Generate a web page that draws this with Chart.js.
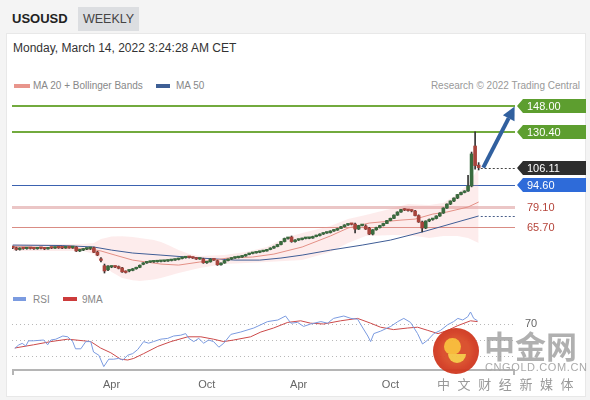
<!DOCTYPE html>
<html>
<head>
<meta charset="utf-8">
<script src="https://cdn.jsdelivr.net/npm/chart.js@4.4.0/dist/chart.umd.min.js"></script>
<style>
  body { margin:0; width:590px; height:400px; background:#f4f4f4; font-family:"Liberation Sans", Arial, sans-serif; position:relative; overflow:hidden; }
  #sym { position:absolute; left:12px; top:11px; font-weight:bold; font-size:13px; color:#222; }
  #tab { position:absolute; left:78px; top:7px; width:61px; height:24px; background:#dcdee1; color:#444; font-size:12.5px; line-height:24px; text-align:center; }
  #card { position:absolute; left:6px; top:33px; width:578px; height:362px; background:#fff; border:1px solid #e8e8e8; }
  #date { position:absolute; left:13px; top:41px; font-size:12px; color:#333; }
  .leg { position:absolute; font-size:10px; color:#888; white-space:nowrap; }
  .sw { position:absolute; height:4px; }
  canvas { position:absolute; left:0; }
  #price { top:95px; }
  #rsi { top:305px; }
  #logo { position:absolute; left:433px; top:328px; width:46px; height:46px; border-radius:50%;
          background:radial-gradient(circle at 50% 50%, #d94a26 0 40%, #d23a20 60%, #c42f1c 100%); opacity:0.95; }
  #logo:before { content:""; position:absolute; left:11px; top:10px; width:17px; height:17px; border-radius:50%; background:#f7b733; }
  #logo:after { content:""; position:absolute; left:15px; top:26px; width:18px; height:9px; border-radius:0 0 10px 10px; background:#f4c542; }
  #wmBig { position:absolute; left:484px; top:327px; font-size:31px; font-weight:bold; color:rgba(150,150,150,0.75); font-family:"Noto Sans CJK SC", sans-serif; line-height:36px; }
  #wmUrl { position:absolute; left:485px; top:361px; font-size:11px; color:#aaa; letter-spacing:0.6px; }
  #wmSub { position:absolute; left:437px; top:374px; font-size:13px; color:#999; letter-spacing:7.6px; font-family:"Noto Sans CJK SC", sans-serif; }
</style>
</head>
<body>
<div id="card"></div>
<div id="sym">USOUSD</div>
<div id="tab">WEEKLY</div>
<div id="date">Monday, March 14, 2022 3:24:28 AM CET</div>

<div class="sw" style="left:14px;top:84px;width:16px;background:#e8958c"></div>
<div class="leg" style="left:33px;top:80px">MA 20 + Bollinger Bands</div>
<div class="sw" style="left:156px;top:84px;width:14px;background:#3e5f95"></div>
<div class="leg" style="left:176px;top:80px">MA 50</div>
<div class="leg" style="right:10px;top:80px;color:#999">Research © 2022 Trading Central</div>

<canvas id="price" width="590" height="187"></canvas>

<div class="sw" style="left:13px;top:297px;width:13px;background:#7b9be0"></div>
<div class="leg" style="left:33px;top:294px">RSI</div>
<div class="sw" style="left:63px;top:297px;width:14px;background:#cc3b3b"></div>
<div class="leg" style="left:82px;top:294px">9MA</div>

<canvas id="rsi" width="590" height="95"></canvas>

<div id="logo"></div>
<div id="wmBig">中金网</div>
<div id="wmUrl">CNGOLD.COM.CN</div>
<div id="wmSub">中文财经新媒体</div>

<script>
// weekly candles, Sep 2019 .. Mar 14 2022 (index = week number)
const opens = [52.1,51.6,50.4,51.1,51.0,51.3,51.1,50.9,51.4,51.2,
  50.8,51.5,51.4,51.8,51.6,51.5,51.9,51.7,52.1,49.4,
  50.0,50.7,51.1,51.6,48.7,43.6,39.4,36.6,38.5,38.8,
  38.8,37.9,35.3,35.8,36.2,37.3,38.3,40.3,41.3,41.8,
  42.0,42.1,42.3,42.4,42.6,42.9,43.2,43.6,44.3,44.8,
  45.3,45.0,44.6,43.9,44.0,41.4,42.0,43.9,42.8,40.0,
  41.2,42.9,43.9,44.6,44.9,45.3,46.0,47.0,47.7,48.1,
  48.5,49.0,49.4,50.4,51.4,52.4,53.8,55.8,57.9,58.9,
  55.8,56.8,57.2,57.9,58.0,58.2,59.2,59.9,60.9,61.6,
  61.9,63.0,63.6,64.7,65.9,67.1,67.7,67.7,64.3,66.7,
  66.4,65.0,60.9,63.8,65.3,66.7,68.1,70.1,71.6,73.8,
  75.9,77.6,77.2,76.9,76.6,73.5,69.1,65.0,69.8,70.8,
  71.5,73.2,75.2,78.6,81.3,83.4,85.4,87.8,89.2,90.2,
  93.6,120.8,107.8];
const highs = [52.8,52.0,51.6,51.8,51.7,51.9,51.6,51.8,51.9,51.7,
  51.8,52.0,52.1,52.3,52.2,52.3,52.4,52.5,52.4,50.5,
  51.0,51.5,51.7,52.0,49.2,44.9,40.5,39.5,39.2,39.3,
  39.2,38.3,35.9,36.6,37.5,38.4,39.9,41.5,42.1,42.4,
  42.5,42.6,42.8,43.0,43.2,43.5,43.9,44.5,45.2,45.6,
  45.6,45.3,44.9,44.6,44.5,42.3,44.2,44.0,43.2,41.4,
  43.1,44.1,44.8,45.2,45.6,46.2,47.2,47.9,48.4,48.8,
  49.3,49.7,50.6,51.6,52.7,54.0,56.0,58.2,58.6,59.6,
  57.2,57.5,58.1,58.5,58.6,59.5,60.2,61.1,61.8,62.2,
  63.2,63.9,64.9,66.1,67.3,67.9,68.0,68.3,66.9,67.5,
  67.2,65.5,64.0,65.6,66.9,68.3,70.3,71.8,74.0,76.1,
  77.8,78.2,77.6,77.5,77.0,74.0,69.8,69.9,71.2,71.6,
  73.4,75.4,78.8,81.5,83.5,85.6,87.9,89.4,90.4,100.8,
  116.7,130.4,109.5];
const lows = [51.0,49.8,50.0,50.5,50.6,50.7,50.4,50.6,50.8,50.3,
  50.6,51.0,51.1,51.2,51.0,51.2,51.3,51.2,49.0,49.0,
  49.6,50.3,50.4,48.2,46.2,42.0,34.4,36.0,38.0,38.1,
  37.2,34.9,34.4,35.2,35.9,37.0,38.0,40.0,41.0,41.6,
  41.6,41.8,42.0,42.1,42.3,42.6,42.9,43.3,44.0,44.5,
  44.6,44.3,43.6,43.7,41.0,41.0,41.8,43.0,39.6,39.8,
  41.0,42.7,43.6,44.3,44.6,45.0,45.8,46.8,47.4,47.9,
  48.2,48.8,49.2,50.2,51.2,52.2,53.5,55.5,57.5,55.3,
  55.4,56.5,56.9,57.6,57.7,58.0,59.0,59.6,60.6,61.3,
  61.6,62.7,63.4,64.5,65.6,66.8,67.1,61.6,64.0,66.4,
  64.0,60.5,60.3,63.5,65.0,66.4,67.9,69.9,71.4,73.6,
  75.6,76.8,76.5,76.0,73.2,68.8,62.3,64.6,69.3,70.3,
  71.2,72.9,74.9,78.3,80.9,83.0,85.0,87.5,88.9,89.9,
  93.0,105.0,104.5];
const closes = [51.6,50.4,51.1,51.0,51.3,51.1,50.9,51.4,51.2,50.8,
  51.5,51.4,51.8,51.6,51.5,51.9,51.7,52.1,49.4,50.0,
  50.7,51.1,51.2,48.5,46.6,43.0,35.8,39.1,38.8,38.5,
  37.6,35.2,34.8,36.3,37.3,38.1,39.7,41.3,41.8,42.1,
  42.1,42.3,42.4,42.6,42.9,43.2,43.6,44.3,44.8,45.3,
  45.0,44.6,43.9,44.3,41.4,42.0,43.9,43.3,40.0,41.2,
  42.9,43.9,44.6,44.9,45.3,46.0,47.0,47.7,48.1,48.5,
  49.0,49.4,50.4,51.4,52.4,53.8,55.8,57.9,58.2,55.8,
  56.8,57.2,57.9,58.0,58.2,59.2,59.9,60.9,61.6,61.9,
  63.0,63.6,64.7,65.9,67.1,67.7,67.5,64.3,66.7,67.1,
  64.3,60.9,63.8,65.3,66.7,68.1,70.1,71.6,73.8,75.9,
  77.6,77.2,76.9,76.6,73.5,69.1,65.0,69.8,70.8,71.5,
  73.2,75.2,78.6,81.3,83.4,85.4,87.8,89.2,90.2,93.6,
  115.4,107.5,106.11];

// indicators (week index, value)
const ma20Weeks = [0,14,22,25,29,34,42,47,53,61,68,74,82,90,95,101,110,114,119,123,129,132];
const ma20 = [52.4,51.4,50.7,49.4,46.6,43.2,40.5,39.8,41.9,44.6,45.3,47.3,52.1,59.6,65.0,68.4,70.4,71.1,74.5,75.9,79.3,82.7];
const ma50Weeks = [0,14,23,28,34,42,53,63,70,76,82,90,99,107,116,121,127,132];
const ma50 = [53.4,53.1,52.1,50.0,48.0,46.6,44.6,43.2,43.2,44.6,46.6,50.0,53.4,56.8,62.3,65.7,69.8,73.2];
const bbWeeks = [0,20,23,25,28,31,34,36,40,42,44,47,50,53,60,66,72,77,82,90,95,100,108,112,114,118,122,126,129,132];
const bbUpper = [54.1,54.1,54.8,57.5,59.2,59.5,58.9,58.2,56.8,55.5,53.4,50.0,47.3,46.0,46.6,48.7,52.1,58.2,61.6,66.4,71.1,73.8,78.6,81.3,81.0,80.6,82.0,88.1,94.9,105.8];
const bbLower = [49.4,49.4,47.3,41.9,35.1,31.0,29.5,29.0,30.0,31.0,32.4,34.4,36.1,37.8,40.5,41.2,41.9,42.6,43.2,48.7,54.8,59.6,60.2,60.0,59.6,58.2,59.6,59.6,58.2,54.8];

const rsiWeeks = [0.6,1.7,2.7,3.7,4.5,5.9,8.8,9.9,10.8,12.2,14.2,15.6,17,17.8,19.3,20.7,22.1,22.9,24.4,25.8,27.2,28.6,30,31.2,32.6,34,35.4,37.1,38.5,39.9,41.9,43.9,45.6,47.6,49,49.9,51.3,52.7,54.1,55.5,56.9,58.4,59.8,61.8,64.6,68.3,72.2,75.1,77.3,78.8,80.7,82.4,84.4,87.3,89.2,90.9,93.8,95.8,97.7,99.2,100.6,101.4,102.3,104.2,107.1,109.1,110.8,112.7,114.7,116.1,117.6,119.3,121.2,123.2,124.9,126.1,127.5,128.9,129.7,130.6,131.7];
const rsi = [39.6,43.8,45.8,42.5,49,49,50,44,50,51,55,54,48,39,39,48,48,35,31,16.7,26,26,27,25,31,33,38,48,46,48,51,52,55,56,58,52,48,52,46,50,48,41,46,57,60,65,73,75,80,71,72,67,70,73,71,77,80,77,76,65,55,48,58,61,67,73,77,72,58,45,50,58,62,69,73,77,75,79,85,77,74];
const ma9Weeks = [0.6,5.9,10.8,15.6,20.1,22.1,24.9,27.8,30.6,32.6,34.3,37.1,41.1,44.8,49.6,53.3,56.9,59.8,62.6,67.4,70.3,73.9,77.9,81.6,84.4,88.1,92.9,97.7,101.4,104.2,107.9,111.9,114.7,117.6,120.5,123.2,126.1,129.7,131.7];
const ma9 = [40,44,48,51,49,48,40,34,26,25,27,33,42,48,54,54,51,48,50,54,60,65,72,74,71,70,74,77,71,66,63,65,66,62,58,62,68,74,73];

const tickWeeks = [28, 55, 81, 107];
const tickNames = ['Apr', 'Oct', 'Apr', 'Oct'];

const levelValues = [148.00, 130.40, 94.60, 79.10, 65.70];
const levelLabels = ['148.00', '130.40', '94.60', '79.10', '65.70'];
const lastPrice = 106.11;
const arrowFrom = [133.3, 106.11];
const arrowTo = [142.2, 147.6];
const rsiLevels = [70, 50, 30];

const weekMin = -0.2, weekMax = 142.3;
const weeks = closes.map((_, i) => i);
const pts = (xs, ys) => xs.map((x, k) => ({ x: x, y: ys[k] }));
const FONT = '"Liberation Sans", Arial, sans-serif';

// level styles: line colour, line width, tag background (null = plain text)
const levelStyle = [
  { line: '#72aa3e', w: 2, tag: '#5d9e2f' },
  { line: '#72aa3e', w: 2, tag: '#5d9e2f' },
  { line: '#3b62b0', w: 1, tag: '#2e6bd9' },
  { line: '#ebc6c6', w: 3, tag: null },
  { line: '#d98c84', w: 1, tag: null }
];

function drawTag(ctx, x0, x1, y, bg, text) {
  ctx.beginPath();
  ctx.moveTo(x0, y);
  ctx.lineTo(x0 + 6, y - 7);
  ctx.lineTo(x1, y - 7);
  ctx.lineTo(x1, y + 7);
  ctx.lineTo(x0 + 6, y + 7);
  ctx.closePath();
  ctx.fillStyle = bg;
  ctx.fill();
  ctx.fillStyle = '#fff';
  ctx.fillText(text, x0 + 10, y + 0.5);
}

const levelsPlugin = {
  id: 'levels',
  beforeDatasetsDraw(chart) {
    const ctx = chart.ctx, a = chart.chartArea, ys = chart.scales.y;
    ctx.save();
    levelValues.forEach((v, k) => {
      const y = Math.round(ys.getPixelForValue(v)) + (levelStyle[k].w % 2 ? 0.5 : 0);
      ctx.strokeStyle = levelStyle[k].line;
      ctx.lineWidth = levelStyle[k].w;
      ctx.beginPath();
      ctx.moveTo(a.left, y);
      ctx.lineTo(a.right, y);
      ctx.stroke();
    });
    ctx.restore();
  },
  afterDatasetsDraw(chart) {
    const ctx = chart.ctx, a = chart.chartArea, xs = chart.scales.x, ys = chart.scales.y;
    ctx.save();
    // dotted guides from the last candle
    const xLast = xs.getPixelForValue(closes.length - 0.4);
    ctx.setLineDash([2, 2]);
    ctx.lineWidth = 1;
    ctx.strokeStyle = '#444';
    let y = Math.round(ys.getPixelForValue(lastPrice)) + 0.5;
    ctx.beginPath(); ctx.moveTo(xLast, y); ctx.lineTo(a.right, y); ctx.stroke();
    ctx.strokeStyle = '#4a5f8a';
    y = Math.round(ys.getPixelForValue(ma50[ma50.length - 1])) + 0.5;
    ctx.beginPath(); ctx.moveTo(xLast, y); ctx.lineTo(a.right, y); ctx.stroke();
    ctx.setLineDash([]);

    // arrow towards the target
    const x1 = xs.getPixelForValue(arrowFrom[0]), y1 = ys.getPixelForValue(arrowFrom[1]);
    const x2 = xs.getPixelForValue(arrowTo[0]), y2 = ys.getPixelForValue(arrowTo[1]);
    const ang = Math.atan2(y2 - y1, x2 - x1), hl = 13, hw = 6.5;
    const bx = x2 - hl * Math.cos(ang), by = y2 - hl * Math.sin(ang);
    ctx.strokeStyle = '#31609f';
    ctx.fillStyle = '#31609f';
    ctx.lineWidth = 4;
    ctx.beginPath(); ctx.moveTo(x1, y1); ctx.lineTo(bx, by); ctx.stroke();
    ctx.beginPath();
    ctx.moveTo(x2, y2);
    ctx.lineTo(bx + hw * Math.sin(ang), by - hw * Math.cos(ang));
    ctx.lineTo(bx - hw * Math.sin(ang), by + hw * Math.cos(ang));
    ctx.closePath(); ctx.fill();

    // tags on the right
    ctx.font = '11px ' + FONT;
    ctx.textBaseline = 'middle';
    const x0 = a.right + 2, xe = 586;
    levelValues.forEach((v, k) => {
      const yy = Math.round(ys.getPixelForValue(v));
      if (levelStyle[k].tag) {
        drawTag(ctx, x0, xe, yy, levelStyle[k].tag, levelLabels[k]);
      } else {
        ctx.fillStyle = '#b5443a';
        ctx.fillText(levelLabels[k], x0 + 10, yy + 0.5);
      }
    });
    drawTag(ctx, x0, xe, Math.round(ys.getPixelForValue(lastPrice)), '#2d2d2d', lastPrice.toFixed(2));
    ctx.restore();
  }
};

new Chart(document.getElementById('price'), {
  type: 'line',
  data: {
    datasets: [
      {
        type: 'bar',
        data: weeks.map(i => ({ x: i, y: [opens[i], closes[i]] })),
        backgroundColor: weeks.map(i => closes[i] >= opens[i] ? '#3a6b3e' : '#a8443c'),
        barThickness: 3, minBarLength: 1.5, grouped: false, order: 1
      },
      {
        type: 'bar',
        data: weeks.map(i => ({ x: i, y: [lows[i], highs[i]] })),
        backgroundColor: '#333',
        barThickness: 1, grouped: false, order: 2
      },
      { data: pts(ma20Weeks, ma20), borderColor: '#e39086', borderWidth: 1, pointRadius: 0, order: 3 },
      { data: pts(ma50Weeks, ma50), borderColor: '#3f5d96', borderWidth: 1, pointRadius: 0, order: 3 },
      { data: pts(bbWeeks, bbUpper), borderWidth: 0, pointRadius: 0, fill: '+1', backgroundColor: 'rgba(244,160,160,0.2)', order: 5 },
      { data: pts(bbWeeks, bbLower), borderWidth: 0, pointRadius: 0, order: 6 }
    ]
  },
  options: {
    responsive: false,
    animation: false,
    layout: { padding: { left: 12, right: 75, top: 0, bottom: 0 } },
    plugins: { legend: { display: false }, tooltip: { enabled: false } },
    scales: {
      x: { type: 'linear', display: false, min: weekMin, max: weekMax, offset: false },
      y: { display: false, min: 28.3, max: 155.5 }
    }
  },
  plugins: [levelsPlugin]
});

// RSI panel: guides, "70" label and the time axis are drawn from the scales
const rsiPlugin = {
  id: 'rsiGuides',
  beforeDatasetsDraw(chart) {
    const ctx = chart.ctx, a = chart.chartArea, xs = chart.scales.x, ys = chart.scales.y;
    ctx.save();
    ctx.strokeStyle = '#b8b8b8';
    ctx.lineWidth = 1;
    ctx.setLineDash([1, 3]);
    rsiLevels.forEach(v => {
      const y = Math.round(ys.getPixelForValue(v)) + 0.5;
      ctx.beginPath(); ctx.moveTo(a.left, y); ctx.lineTo(a.right, y); ctx.stroke();
    });
    ctx.setLineDash([]);
    ctx.fillStyle = '#666';
    ctx.font = '11px ' + FONT;
    ctx.textBaseline = 'middle';
    ctx.fillText(String(rsiLevels[0]), a.right + 10, Math.round(ys.getPixelForValue(rsiLevels[0])));

    // time axis
    ctx.strokeStyle = '#b5b5b5';
    ctx.lineWidth = 2;
    ctx.beginPath(); ctx.moveTo(a.left, a.bottom); ctx.lineTo(a.right, a.bottom); ctx.stroke();
    [a.left + 1, a.right - 1].forEach(x => {
      ctx.beginPath(); ctx.moveTo(x, a.bottom); ctx.lineTo(x, a.bottom + 5); ctx.stroke();
    });
    ctx.textAlign = 'center';
    tickWeeks.forEach((w, k) => {
      ctx.fillText(tickNames[k], xs.getPixelForValue(w), a.bottom + 15);
    });
    ctx.restore();
  }
};

new Chart(document.getElementById('rsi'), {
  type: 'line',
  data: {
    datasets: [
      { data: pts(rsiWeeks, rsi), borderColor: '#7b9be0', borderWidth: 1, pointRadius: 0 },
      { data: pts(ma9Weeks, ma9), borderColor: '#cc4a4a', borderWidth: 1, pointRadius: 0 }
    ]
  },
  options: {
    responsive: false,
    animation: false,
    layout: { padding: { left: 12, right: 75, top: 0, bottom: 30 } },
    plugins: { legend: { display: false }, tooltip: { enabled: false } },
    scales: {
      x: { type: 'linear', display: false, min: weekMin, max: weekMax },
      y: { display: false, min: 12.5, max: 93.75 }
    }
  },
  plugins: [rsiPlugin]
});
</script>
</body>
</html>
